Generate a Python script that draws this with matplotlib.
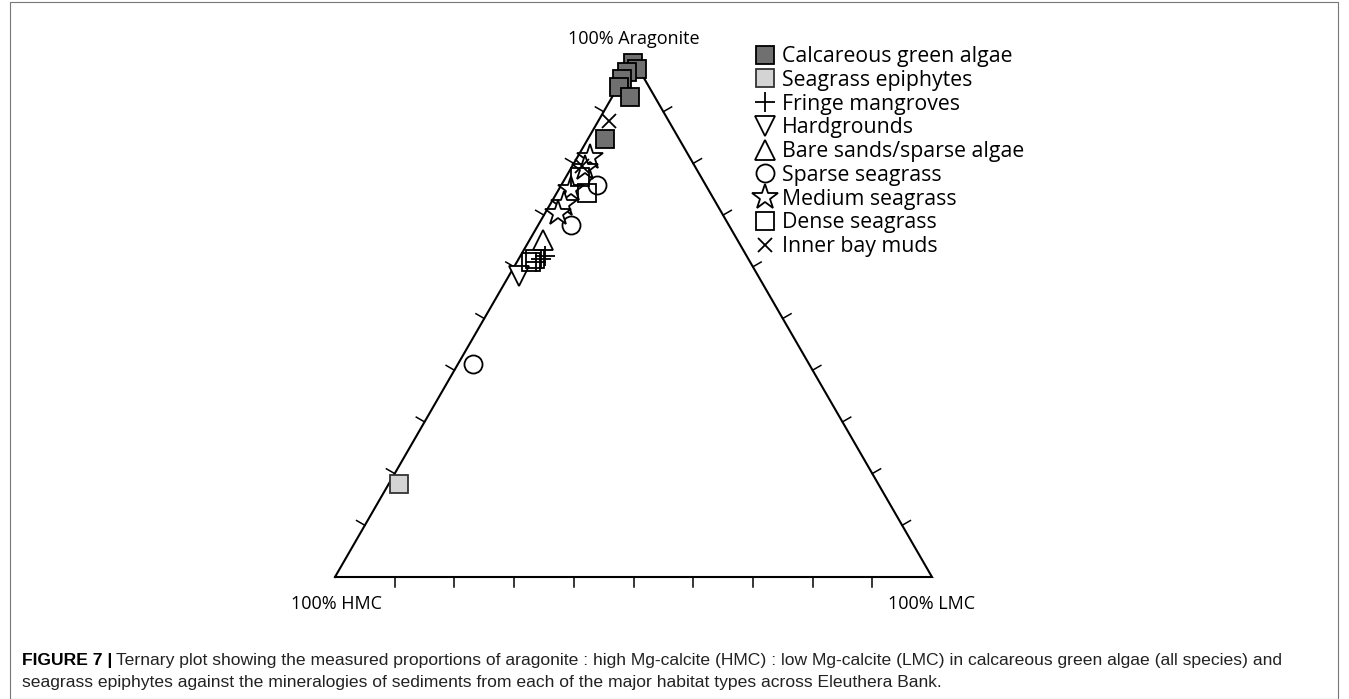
import numpy as np
import matplotlib
matplotlib.use("Agg")
import matplotlib.pyplot as plt
from matplotlib.patches import Rectangle

plt.rcParams['font.family'] = ['Open Sans', 'DejaVu Sans']

# ternary data: (aragonite %, HMC %, LMC %)
algae_ar = [99.4, 98.3, 97.7, 96.3, 94.8, 92.8, 84.7]
algae_hmc = [0.4, 0.2, 2.3, 3.7, 5.0, 4.2, 12.5]
algae_lmc = [0.2, 1.5, 0.0, 0.0, 0.2, 3.0, 2.8]

epi_ar = [18.0]
epi_hmc = [80.3]
epi_lmc = [1.7]

fringe_ar = [62.1, 61.5, 60.9]
fringe_hmc = [33.7, 34.8, 35.8]
fringe_lmc = [4.2, 3.7, 3.3]

hard_ar = [58.2]
hard_hmc = [40.1]
hard_lmc = [1.7]

bare_ar = [65.2]
bare_hmc = [32.6]
bare_lmc = [2.2]

sparse_ar = [41.2, 75.8, 68.1]
sparse_hmc = [56.3, 18.2, 26.5]
sparse_lmc = [2.5, 6.0, 5.4]

medium_ar = [81.2, 79.1, 75.0, 72.1, 70.4]
medium_hmc = [16.7, 18.5, 23.0, 25.6, 27.4]
medium_lmc = [2.1, 2.4, 2.0, 2.3, 2.2]

dense_ar = [77.4, 74.3, 61.5, 60.9]
dense_hmc = [20.3, 20.6, 35.8, 36.8]
dense_lmc = [2.3, 5.1, 2.7, 2.3]

muds_ar = [88.2, 79.5]
muds_hmc = [10.0, 18.8]
muds_lmc = [1.8, 1.7]

ticks = np.arange(10, 100, 10)

H = np.sqrt(3) / 2


def tern(ar, hmc, lmc):
    ar = np.asarray(ar, float)
    hmc = np.asarray(hmc, float)
    lmc = np.asarray(lmc, float)
    s = ar + hmc + lmc
    x = (lmc + 0.5 * ar) / s
    y = H * ar / s
    return x, y


fig = plt.figure(figsize=(13.49, 6.99), dpi=100)
W, Hpx = 1349, 699
ax = fig.add_axes([335 / W, (699 - 577) / Hpx, 597 / W, 517 / Hpx])
ax.set_xlim(0, 1)
ax.set_ylim(0, H)
ax.axis('off')

# outer frame
fig.patches.append(Rectangle((10 / W, 0), (1338 - 10) / W, (697) / Hpx,
                             transform=fig.transFigure, fill=False,
                             ec='#777777', lw=0.8))

# triangle
ax.plot([0, 1, 0.5, 0], [0, 0, H, 0], color='k', lw=1.5, clip_on=False,
        solid_joinstyle='miter')

# ticks, perpendicular outward
tl = 0.016
for t in ticks / 100:
    # bottom edge
    ax.plot([t, t], [0, -tl], color='k', lw=1.1, clip_on=False)
    # left edge
    px, py = 0.5 * t, H * t
    ax.plot([px, px - tl * H], [py, py + tl * 0.5], color='k', lw=1.1, clip_on=False)
    # right edge
    px, py = 1 - 0.5 * t, H * t
    ax.plot([px, px + tl * H], [py, py + tl * 0.5], color='k', lw=1.1, clip_on=False)

lab_fs = 13
ax.text(0.5, H + 0.036, '100% Aragonite', ha='center', va='center', fontsize=lab_fs)
ax.text(0.003, -0.046, '100% HMC', ha='center', va='center', fontsize=lab_fs)
ax.text(1.0, -0.046, '100% LMC', ha='center', va='center', fontsize=lab_fs)

mew = 1.3
series = [
    (algae_ar, algae_hmc, algae_lmc, 'Calcareous green algae',
     dict(marker='s', ms=12.5, mfc='#707070', mec='k', zorder=6)),
    (epi_ar, epi_hmc, epi_lmc, 'Seagrass epiphytes',
     dict(marker='s', ms=12.5, mfc='#d4d4d4', mec='#333333', zorder=3)),
    (fringe_ar, fringe_hmc, fringe_lmc, 'Fringe mangroves',
     dict(marker='+', ms=15, mec='k', zorder=5)),
    (hard_ar, hard_hmc, hard_lmc, 'Hardgrounds',
     dict(marker='v', ms=14.5, mfc='white', mec='k', zorder=3)),
    (bare_ar, bare_hmc, bare_lmc, 'Bare sands/sparse algae',
     dict(marker='^', ms=14.5, mfc='white', mec='k', zorder=3)),
    (sparse_ar, sparse_hmc, sparse_lmc, 'Sparse seagrass',
     dict(marker='o', ms=13, mfc='white', mec='k', zorder=3)),
    (medium_ar, medium_hmc, medium_lmc, 'Medium seagrass',
     dict(marker='*', ms=19, mfc='white', mec='k', zorder=3)),
    (dense_ar, dense_hmc, dense_lmc, 'Dense seagrass',
     dict(marker='s', ms=12.5, mfc='none', mec='k', zorder=4)),
    (muds_ar, muds_hmc, muds_lmc, 'Inner bay muds',
     dict(marker='x', ms=10.5, mec='k', zorder=5)),
]

handles = []
for ar, hm, lm, name, st in series:
    x, y = tern(ar, hm, lm)
    ln, = ax.plot(x, y, ls='none', mew=mew, clip_on=False, label=name, **st)
    handles.append(ln)

fig.legend(handles=handles, loc='upper left',
           bbox_to_anchor=(756 / W, 1 - 46 / Hpx), frameon=False,
           fontsize=15.3, handlelength=0.8, handletextpad=0.4,
           labelspacing=0.13, borderaxespad=0, borderpad=0)

# caption
cap_fs = 12.6
cap_font = ['Liberation Sans', 'DejaVu Sans']
t1 = fig.text(22 / W, 1 - 660 / Hpx, 'FIGURE 7 |', fontsize=cap_fs,
              fontweight='bold', family=cap_font, va='center', ha='left')
fig.canvas.draw()
bb = t1.get_window_extent()
fig.text((bb.x1 + 4) / W, 1 - 660 / Hpx,
         'Ternary plot showing the measured proportions of aragonite : high Mg-calcite (HMC) : '
         'low Mg-calcite (LMC) in calcareous green algae (all species) and',
         fontsize=cap_fs, family=cap_font, va='center', ha='left', color='#222222')
fig.text(22 / W, 1 - 683 / Hpx,
         'seagrass epiphytes against the mineralogies of sediments from each of the major '
         'habitat types across Eleuthera Bank.',
         fontsize=cap_fs, family=cap_font, va='center', ha='left', color='#222222')

fig.savefig('out.png', dpi=100)
